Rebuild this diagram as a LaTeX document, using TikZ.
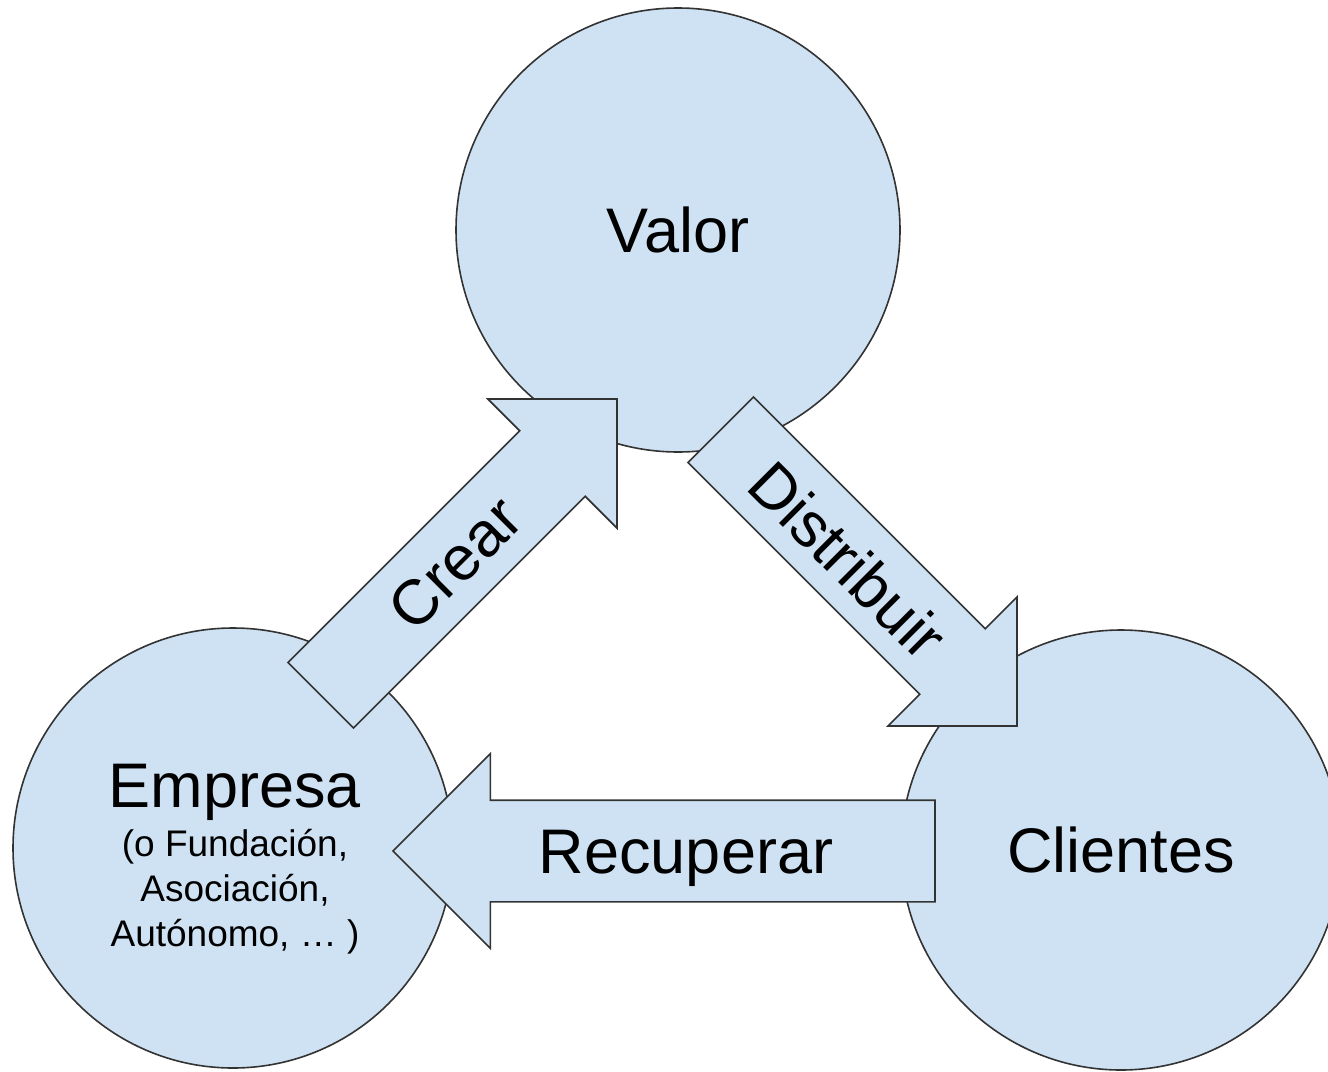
\documentclass[tikz,border=0pt]{standalone}
\usepackage{fontspec}
\setmainfont{Liberation Sans}
\usepackage{tikz}
\usetikzlibrary{shapes, arrows}
\definecolor{bubblefill}{HTML}{CFE2F3}
\definecolor{edgegray}{HTML}{333333}
\newcommand{\biglabel}{\fontsize{63}{75}\selectfont}
\newcommand{\smalllabel}{\fontsize{37}{45}\selectfont}
\tikzstyle{bubble} = [circle, draw=edgegray, fill=bubblefill, line width=1.6pt, inner sep=0pt, font=\biglabel]
\tikzstyle{blockarrow} = [single arrow, draw=edgegray, fill=bubblefill, line width=1.6pt, single arrow tip angle=90, inner xsep=0pt, outer sep=0pt, anchor=tip]

\begin{document}
\begin{tikzpicture}[x=1pt, y=-1pt]
\useasboundingbox (0,0) rectangle (1328,1071);

\node[bubble, minimum size=444pt] (valor) at (678,230) {Valor};
\node[bubble, minimum size=440pt] (empresa) at (233,848) {};
\node[bubble, minimum size=440pt] (clientes) at (1121,850) {Clientes};

\node[blockarrow, rotate=45, inner ysep=45.5pt, single arrow head extend=45pt, minimum width=181pt, minimum height=419pt] (crear) at (617,399) {};
\node[blockarrow, rotate=-45, inner ysep=45.5pt, single arrow head extend=45pt, minimum width=181pt, minimum height=419pt] (distribuir) at (1017,726) {};
\node[blockarrow, rotate=180, inner ysep=50pt, single arrow head extend=46.5pt, minimum width=193pt, minimum height=542pt] (recuperar) at (393,851) {};

\node[rotate=45, font=\biglabel] (crearlbl) at (455,563) {Crear};
\node[rotate=-45, font=\biglabel] (distribuirlbl) at (848,560) {Distribuir};
\node[anchor=base, font=\biglabel] (recuperarlbl) at (686,873) {Recuperar};
\node[align=center, font=\smalllabel, inner sep=0pt] (empresalbl) at (235,859) {\biglabel Empresa\\[4pt](o Fundación,\\Asociación,\\Autónomo, … )};
\end{tikzpicture}
\end{document}
